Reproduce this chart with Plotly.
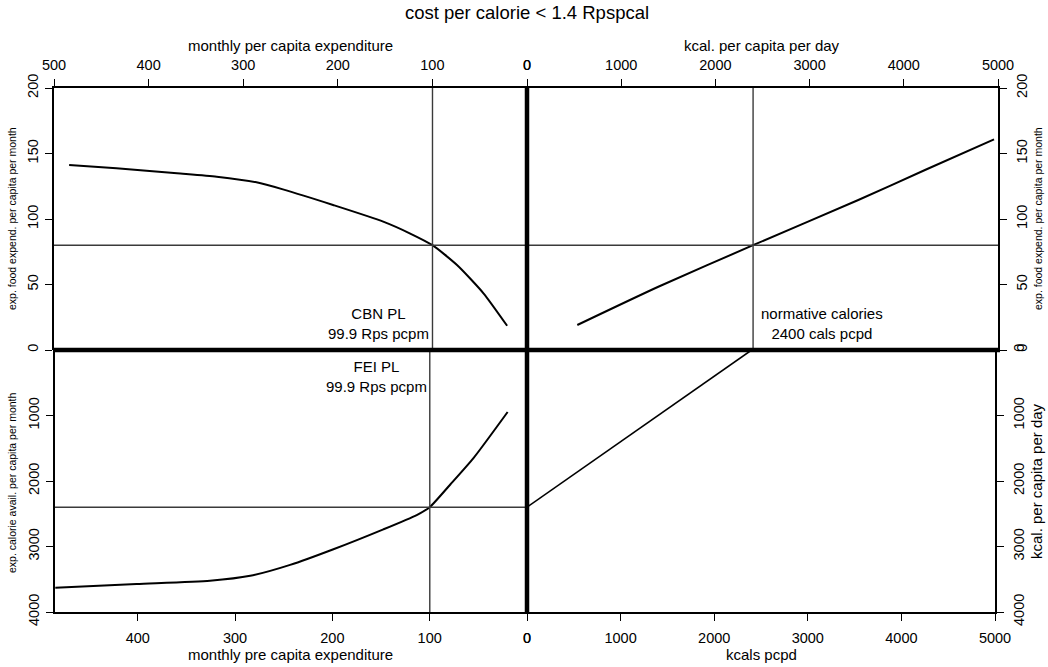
import plotly.graph_objects as go

W, H = 1048, 667


def fx(px):
    return px / W


def fy(py):
    return 1 - py / H


# Top-left: food expenditure against monthly per capita expenditure
mpce_top = [484, 434, 370, 328, 286, 258, 205, 152, 124, 100, 74, 46, 21]
food_exp = [141.2, 138.7, 134.9, 132.3, 128.0, 122.6, 110.7, 98.0, 89.1, 80.0, 64.9, 43.3, 18.5]

# Top-right: food expenditure against calories
kcal_top = [534, 1394, 2400, 3517, 4225, 4958]
food_exp_kcal = [19.1, 48.3, 80.0, 114.5, 137.4, 160.8]

# Bottom-left: calorie availability against monthly per capita expenditure
mpce_bottom = [484.7, 401.1, 325.8, 284.4, 243.4, 198.9, 147.6, 113.3, 100.0, 78.8, 54.8, 19.9]
kcal_avail = [3630, 3574, 3524, 3448, 3281, 3042, 2738, 2520, 2400, 2053, 1647, 947]

# Bottom-right: reflection line between the two calorie axes
kcal_x = [0, 2400]
kcal_y = [2400, 0]

# Poverty-line reference values
pl_mpce = 99.9
pl_food = 80
norm_kcal = 2400

FONT = "Liberation Sans, Arial, sans-serif"
CURVE = dict(color="black", width=2, shape="spline", smoothing=0.6)
REF = dict(color="#3a3a3a", width=1.4)

fig = go.Figure()

# curves
fig.add_trace(go.Scatter(x=mpce_top, y=food_exp, mode="lines", line=CURVE, xaxis="x", yaxis="y"))
fig.add_trace(go.Scatter(x=kcal_top, y=food_exp_kcal, mode="lines", line=CURVE, xaxis="x2", yaxis="y2"))
fig.add_trace(go.Scatter(x=mpce_bottom, y=kcal_avail, mode="lines", line=CURVE, xaxis="x3", yaxis="y3"))
fig.add_trace(go.Scatter(x=kcal_x, y=kcal_y, mode="lines", line=dict(color="black", width=1.6),
                         xaxis="x4", yaxis="y4"))

# reference lines
fig.add_trace(go.Scatter(x=[pl_mpce, pl_mpce], y=[0, 200], mode="lines", line=REF, xaxis="x", yaxis="y"))
fig.add_trace(go.Scatter(x=[500, 0], y=[pl_food, pl_food], mode="lines", line=REF, xaxis="x", yaxis="y"))
fig.add_trace(go.Scatter(x=[0, 5000], y=[pl_food, pl_food], mode="lines", line=REF, xaxis="x2", yaxis="y2"))
fig.add_trace(go.Scatter(x=[norm_kcal, norm_kcal], y=[0, 200], mode="lines", line=REF, xaxis="x2", yaxis="y2"))
fig.add_trace(go.Scatter(x=[pl_mpce, pl_mpce], y=[0, 4000], mode="lines", line=REF, xaxis="x3", yaxis="y3"))
fig.add_trace(go.Scatter(x=[485, 0], y=[norm_kcal, norm_kcal], mode="lines", line=REF, xaxis="x3", yaxis="y3"))

tickfont = dict(family=FONT, size=14.5, color="black")


def ax(**kw):
    base = dict(showline=True, linecolor="black", linewidth=1.5, ticks="outside", ticklen=7,
                tickwidth=1.2, tickcolor="black", showgrid=False, zeroline=False,
                tickfont=tickfont, fixedrange=True, automargin=False)
    base.update(kw)
    return base


top_dom = [fy(350), fy(88)]
bot_dom = [fy(612), fy(350)]

fig.update_layout(
    width=W, height=H,
    margin=dict(l=0, r=0, t=0, b=0, pad=0),
    paper_bgcolor="white", plot_bgcolor="white",
    showlegend=False,
    font=dict(family=FONT, color="black"),
    title=dict(text="cost per calorie < 1.4 Rpspcal", x=fx(527), y=fy(13),
               xanchor="center", yanchor="middle", automargin=False,
               font=dict(size=18.5, family=FONT, color="black")),
    xaxis=ax(domain=[fx(54), fx(527)], range=[500, 0], side="top", anchor="y",
             tickvals=[500, 400, 300, 200, 100, 0], ticklabelstandoff=3),
    yaxis=ax(domain=top_dom, range=[0, 200], side="left", anchor="x",
             tickvals=[0, 50, 100, 150, 200], tickangle=-90, ticklabelstandoff=1),
    xaxis2=ax(domain=[fx(527), fx(998)], range=[0, 5000], side="top", anchor="y2",
              tickvals=[0, 1000, 2000, 3000, 4000, 5000], ticklabelstandoff=3),
    yaxis2=ax(domain=top_dom, range=[0, 200], side="right", anchor="x2",
              tickvals=[0, 50, 100, 150, 200], tickangle=-90, ticklabelstandoff=3),
    xaxis3=ax(domain=[fx(55), fx(527)], range=[485, 0], side="bottom", anchor="y3",
              tickvals=[400, 300, 200, 100, 0], ticklabelstandoff=5),
    yaxis3=ax(domain=bot_dom, range=[4000, 0], side="left", anchor="x3",
              tickvals=[1000, 2000, 3000, 4000], tickangle=-90, ticklabelstandoff=1),
    xaxis4=ax(domain=[fx(527), fx(995)], range=[0, 5000], side="bottom", anchor="y4",
              tickvals=[0, 1000, 2000, 3000, 4000, 5000], ticklabelstandoff=5),
    yaxis4=ax(domain=bot_dom, range=[4000, 0], side="right", anchor="x4",
              tickvals=[0, 1000, 2000, 3000, 4000], tickangle=-90, ticklabelstandoff=3),
)

# heavy zero axes splitting the four panels
fig.add_shape(type="line", xref="paper", yref="paper", x0=fx(54), x1=fx(1000),
              y0=fy(350), y1=fy(350), line=dict(color="black", width=4.5), layer="above")
fig.add_shape(type="line", xref="paper", yref="paper", x0=fx(527), x1=fx(527),
              y0=fy(612), y1=fy(88), line=dict(color="black", width=4.5), layer="above")

# axis titles
titles = [
    ("monthly per capita expenditure", 290, 45, 0, 15),
    ("kcal. per capita per day", 762, 45, 0, 15),
    ("monthly pre capita expenditure", 290, 654, 0, 15),
    ("kcals pcpd", 761, 654, 0, 15),
    ("exp. food expend. per capita per month", 12, 219, -90, 10.5),
    ("exp. calorie avail. per capita per month", 12, 483, -90, 10.5),
    ("exp. food expend. per capita per month", 1038, 219, -90, 10.5),
    ("kcal. per capita per day", 1036, 481, -90, 15),
]
for text, px, py, ang, size in titles:
    fig.add_annotation(text=text, xref="paper", yref="paper", x=fx(px), y=fy(py),
                       xanchor="center", yanchor="middle", textangle=ang, showarrow=False,
                       font=dict(size=size, family=FONT, color="black"))

# poverty line labels
lab = dict(size=15, family=FONT, color="black")
fig.add_annotation(text="CBN PL<br>99.9 Rps pcpm", xref="x", yref="y", x=pl_mpce, y=20,
                   xanchor="right", yanchor="middle", align="center", xshift=-1,
                   showarrow=False, font=lab)
fig.add_annotation(text="FEI PL<br>99.9 Rps pcpm", xref="x3", yref="y3", x=pl_mpce, y=400,
                   xanchor="right", yanchor="middle", align="center", xshift=-1,
                   showarrow=False, font=lab)
fig.add_annotation(text="normative calories<br>2400 cals pcpd", xref="x2", yref="y2", x=norm_kcal, y=20,
                   xanchor="left", yanchor="middle", align="center", xshift=6,
                   showarrow=False, font=lab)

fig.write_html("out.html")
